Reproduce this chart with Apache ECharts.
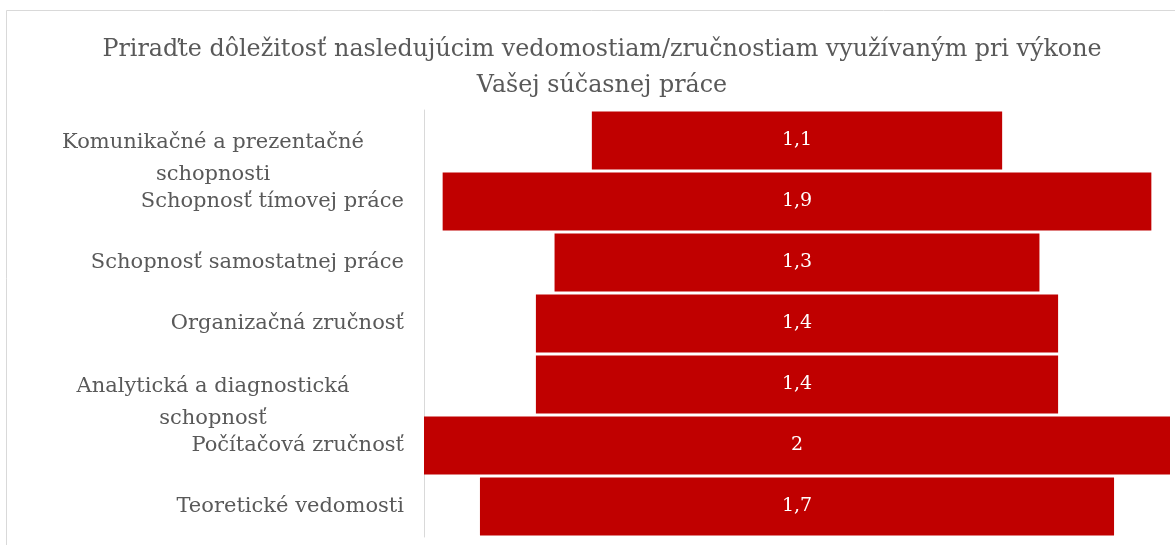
<!DOCTYPE html>
<html>
<head>
<meta charset="utf-8">
<script src="https://cdn.jsdelivr.net/npm/echarts@6/dist/echarts.min.js"></script>
<style>
  html, body { margin: 0; padding: 0; background: #fff; }
  #chart { width: 1175px; height: 545px; }
</style>
</head>
<body>
<div id="chart"></div>
<script>
var titleText = "Priraďte dôležitosť nasledujúcim vedomostiam/zručnostiam využívaným pri výkone\nVašej súčasnej práce";

// top to bottom
var categories = [
    "Komunikačné a prezentačné\nschopnosti",
    "Schopnosť tímovej práce",
    "Schopnosť samostatnej práce",
    "Organizačná zručnosť",
    "Analytická a diagnostická\nschopnosť",
    "Počítačová zručnosť",
    "Teoretické vedomosti"
];
var values = [1.1, 1.9, 1.3, 1.4, 1.4, 2, 1.7];
var axisMax = 2;

var fontName = "DejaVu Serif";
var textColor = "#595959";
var barColor = "#C00000";

// invisible spacer so every bar is centred
var spacer = values.map(function (v) { return (axisMax - v) / 2; });

var chart = echarts.init(document.getElementById("chart"));

var option = {
    backgroundColor: "#fff",
    animation: false,
    title: {
        text: titleText,
        left: 597,
        textAlign: "center",
        top: 27,
        textStyle: {
            fontFamily: fontName,
            fontWeight: "normal",
            fontSize: 23.8,
            lineHeight: 36,
            color: textColor
        }
    },
    graphic: [{
        type: "rect",
        shape: { x: 6.5, y: 10.5, width: 1300, height: 700 },
        style: { fill: null, stroke: "#d9d9d9", lineWidth: 1 },
        silent: true
    }],
    grid: {
        left: 424,
        right: 5,
        top: 110,
        bottom: 8
    },
    xAxis: {
        type: "value",
        min: 0,
        max: axisMax,
        show: false
    },
    yAxis: {
        type: "category",
        inverse: true,
        data: categories,
        axisTick: { show: false },
        axisLine: { show: true, lineStyle: { color: "#d9d9d9", width: 1 } },
        axisLabel: {
            margin: 20,
            align: "right",
            fontFamily: fontName,
            fontSize: 21,
            color: textColor,
            formatter: function (v) {
                if (v.indexOf("\n") < 0) {
                    return "{r|" + v + "}";
                }
                var lines = v.split("\n").map(function (l) { return "{c|" + l + "}"; });
                return "{c| }\n" + lines.join("\n");
            },
            rich: {
                r: { fontFamily: fontName, fontSize: 21, color: textColor, lineHeight: 32 },
                c: { fontFamily: fontName, fontSize: 21, color: textColor, lineHeight: 32, width: 382, align: "center", padding: [4, 0, 0, 0] }
            }
        }
    },
    series: [
        {
            type: "bar",
            stack: "t",
            data: spacer,
            itemStyle: { color: "transparent" },
            silent: true,
            barCategoryGap: "5%"
        },
        {
            type: "bar",
            stack: "t",
            data: values,
            barCategoryGap: "5%",
            itemStyle: { color: barColor },
            label: {
                show: true,
                position: "inside",
                color: "#fff",
                fontFamily: fontName,
                fontSize: 19,
                formatter: function (p) { return String(p.value).replace(".", ","); }
            }
        }
    ]
};

chart.setOption(option);
</script>
</body>
</html>
